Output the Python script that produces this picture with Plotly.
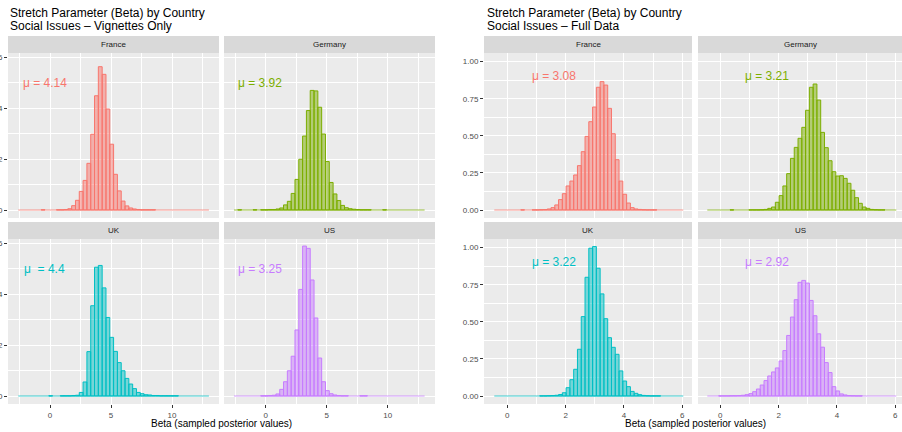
import plotly.graph_objects as go

# ---------------- data ----------------
COUNTRIES = ["France", "Germany", "UK", "US"]
COLORS = ["#F8766D", "#7CAE00", "#00BFC4", "#C77CFF"]

# Vignettes-only posterior histograms (density per bin), 50 bins
VIG_BIN_START = -2.6
VIG_BIN_WIDTH = 0.3125
VIG_FRANCE = [0, 0, 0, 0, 0, 0, 0.001, 0, 0, 0,
              0.001, 0.001, 0.002, 0.005, 0.017, 0.038, 0.073, 0.116, 0.183, 0.297,
              0.448, 0.562, 0.532, 0.396, 0.258, 0.140, 0.075, 0.035, 0.016, 0.008,
              0.004, 0.002, 0.001, 0.001, 0.001, 0.001, 0, 0, 0, 0,
              0, 0, 0, 0, 0, 0, 0, 0, 0, 0]
VIG_GERMANY = [0, 0.001, 0, 0, 0, 0.001, 0, 0.001, 0.001, 0.002,
               0.002, 0.004, 0.008, 0.020, 0.034, 0.065, 0.120, 0.199, 0.290, 0.390,
               0.469, 0.467, 0.403, 0.298, 0.190, 0.108, 0.063, 0.037, 0.018, 0.009,
               0.005, 0.003, 0.002, 0.001, 0.001, 0.001, 0, 0, 0, 0.001,
               0, 0, 0, 0, 0, 0, 0, 0, 0, 0]
VIG_UK = [0, 0, 0, 0, 0, 0, 0, 0, 0.001, 0,
          0, 0.001, 0.001, 0.001, 0.002, 0.003, 0.014, 0.055, 0.174, 0.354,
          0.505, 0.512, 0.424, 0.308, 0.230, 0.175, 0.131, 0.099, 0.069, 0.047,
          0.029, 0.014, 0.009, 0.005, 0.004, 0.002, 0.002, 0.001, 0.001, 0.001,
          0.001, 0.001, 0, 0, 0, 0, 0, 0, 0, 0]
VIG_US = [0, 0, 0, 0, 0, 0, 0, 0.001, 0.001, 0.002,
          0.003, 0.008, 0.026, 0.056, 0.099, 0.156, 0.259, 0.418, 0.588, 0.579,
          0.455, 0.306, 0.149, 0.056, 0.021, 0.009, 0.004, 0.002, 0.001, 0.001,
          0, 0, 0, 0.001, 0.001, 0, 0, 0, 0, 0,
          0, 0, 0, 0, 0, 0, 0, 0, 0, 0]
VIG_MEANS = ["4.14", "3.92", "4.4", "3.25"]

# Full-data posterior histograms (density per bin), 50 bins
FULL_BIN_START = -0.446
FULL_BIN_WIDTH = 0.1296
FULL_FRANCE = [0, 0, 0, 0, 0, 0, 0, 0.001, 0, 0,
               0.001, 0.001, 0.002, 0.003, 0.007, 0.016, 0.034, 0.070, 0.110, 0.162,
               0.195, 0.236, 0.299, 0.393, 0.496, 0.595, 0.694, 0.827, 0.865, 0.842,
               0.685, 0.514, 0.339, 0.195, 0.106, 0.047, 0.016, 0.007, 0.004, 0.002,
               0.001, 0.001, 0.001, 0, 0, 0, 0, 0, 0, 0]
FULL_GERMANY = [0, 0, 0, 0, 0, 0, 0.001, 0, 0, 0,
                0, 0.001, 0.001, 0.001, 0.002, 0.004, 0.011, 0.020, 0.052, 0.097,
                0.162, 0.245, 0.348, 0.422, 0.483, 0.557, 0.672, 0.827, 0.849, 0.741,
                0.523, 0.420, 0.332, 0.258, 0.229, 0.231, 0.213, 0.180, 0.133, 0.083,
                0.045, 0.020, 0.011, 0.004, 0.002, 0.001, 0.001, 0, 0, 0]
FULL_UK = [0, 0, 0, 0, 0, 0, 0, 0, 0, 0,
           0, 0, 0.001, 0.001, 0.002, 0.003, 0.005, 0.010, 0.022, 0.056,
           0.110, 0.180, 0.315, 0.535, 0.800, 0.996, 1.007, 0.861, 0.688, 0.521,
           0.393, 0.328, 0.281, 0.169, 0.101, 0.063, 0.031, 0.018, 0.009, 0.004,
           0.002, 0.001, 0.001, 0.001, 0, 0, 0, 0, 0, 0]
FULL_US = [0, 0, 0, 0.001, 0.001, 0.001, 0.002, 0.002, 0.003, 0.005,
           0.009, 0.016, 0.029, 0.047, 0.074, 0.104, 0.135, 0.162, 0.189, 0.236,
           0.306, 0.408, 0.532, 0.649, 0.766, 0.779, 0.761, 0.644, 0.541, 0.419,
           0.329, 0.225, 0.158, 0.063, 0.034, 0.014, 0.007, 0.003, 0.002, 0.001,
           0.001, 0, 0, 0, 0, 0, 0, 0, 0, 0]
FULL_MEANS = ["3.08", "3.21", "3.22", "2.92"]

VIG_X_TICKS = [0, 5, 10]
VIG_Y_TICKS = [0.0, 0.2, 0.4, 0.6]
FULL_X_TICKS = [0, 2, 4, 6]
FULL_Y_TICKS = [0.0, 0.25, 0.50, 0.75, 1.00]

TITLES = [("Stretch Parameter (Beta) by Country", "Social Issues \u2013 Vignettes Only"),
          ("Stretch Parameter (Beta) by Country", "Social Issues \u2013 Full Data")]
X_TITLE = "Beta (sampled posterior values)"

# ---------------- layout geometry (pixels) ----------------
W, H = 902, 432
FONT = "Liberation Sans, Arial, Helvetica, sans-serif"


def fx(p):
    return p / W


def fy(p):
    return 1 - p / H


ROWS = [(53, 218), (239, 404)]
STRIPS = [(36, 53), (222, 239)]
IMAGES = [
    dict(cols=[(8, 219), (224, 435)], zero_x=[50, 265.7], sx=12.2, zero_y=[210, 396], sy=255.0,
         data=[VIG_FRANCE, VIG_GERMANY, VIG_UK, VIG_US], start=VIG_BIN_START, bw=VIG_BIN_WIDTH,
         means=VIG_MEANS, xt=VIG_X_TICKS, yt=VIG_Y_TICKS, xfmt="{:g}", yfmt="{:.1f}",
         xminor=2.5, yminor=0.1, mu_x=-0.45, mu_y=0.5, title_x=8, xtitle_x=221.5),
    dict(cols=[(484, 692), (698, 902)], zero_x=[507.3, 720.3], sx=29.17, zero_y=[210, 396], sy=148.4,
         data=[FULL_FRANCE, FULL_GERMANY, FULL_UK, FULL_US], start=FULL_BIN_START, bw=FULL_BIN_WIDTH,
         means=FULL_MEANS, xt=FULL_X_TICKS, yt=FULL_Y_TICKS, xfmt="{:g}", yfmt="{:.2f}",
         xminor=1, yminor=0.125, mu_x=1.6, mu_y=0.9, title_x=485, xtitle_x=695),
]


def rgba(hexc, a):
    h = hexc.lstrip("#")
    r, g, b = int(h[0:2], 16), int(h[2:4], 16), int(h[4:6], 16)
    return f"rgba({r},{g},{b},{a})"


fig = go.Figure()
layout = {}
shapes = []
annotations = []

for j, img in enumerate(IMAGES):
    for c, country in enumerate(COUNTRIES):
        idx = j * 4 + c + 1
        row, col = c // 2, c % 2
        xs = "" if idx == 1 else str(idx)
        vals = img["data"][c]
        n = len(vals)
        centers = [img["start"] + (k + 0.5) * img["bw"] for k in range(n)]
        edges_end = [img["start"], img["start"] + n * img["bw"]]
        color = COLORS[c]

        fig.add_trace(go.Scatter(x=edges_end, y=[0, 0], mode="lines",
                                 line=dict(color=color, width=1), opacity=0.75,
                                 xaxis="x" + xs, yaxis="y" + xs, showlegend=False,
                                 hoverinfo="skip"))
        fig.add_trace(go.Bar(x=centers, y=[v if v > 0 else None for v in vals], width=img["bw"],
                             marker=dict(color=rgba(color, 0.5), line=dict(color=color, width=1)),
                             xaxis="x" + xs, yaxis="y" + xs, showlegend=False))

        left, right = img["cols"][col]
        top, bottom = ROWS[row]
        zx = img["zero_x"][col]
        zy = img["zero_y"][row]
        xr = [(left - zx) / img["sx"], (right - zx) / img["sx"]]
        yr = [(zy - bottom) / img["sy"], (zy - top) / img["sy"]]

        show_x = row == 1
        show_y = col == 0
        layout["xaxis" + xs] = dict(
            domain=[fx(left), fx(right)], range=xr, anchor="y" + xs, automargin=False,
            tickmode="array", tickvals=img["xt"], ticktext=[img["xfmt"].format(v) for v in img["xt"]],
            showticklabels=show_x, ticks="outside" if show_x else "", ticklen=3, tickwidth=1,
            tickcolor="#333333", tickfont=dict(size=8, color="#4D4D4D", family=FONT),
            showgrid=True, gridcolor="white", gridwidth=1.1, zeroline=False, showline=False,
            minor=dict(tickmode="linear", tick0=0, dtick=img["xminor"], showgrid=True,
                       gridcolor="white", gridwidth=0.5, ticks=""),
            fixedrange=True)
        layout["yaxis" + xs] = dict(
            domain=[fy(bottom), fy(top)], range=yr, anchor="x" + xs, automargin=False,
            tickmode="array", tickvals=img["yt"], ticktext=[img["yfmt"].format(v) for v in img["yt"]],
            showticklabels=show_y, ticks="outside" if show_y else "", ticklen=3, tickwidth=1,
            tickcolor="#333333", tickfont=dict(size=8, color="#4D4D4D", family=FONT),
            showgrid=True, gridcolor="white", gridwidth=1.1, zeroline=False, showline=False,
            minor=dict(tickmode="linear", tick0=0, dtick=img["yminor"], showgrid=True,
                       gridcolor="white", gridwidth=0.5, ticks=""),
            fixedrange=True)

        # strip
        s_top, s_bot = STRIPS[row]
        shapes.append(dict(type="rect", xref="paper", yref="paper",
                           x0=fx(left), x1=fx(right), y0=fy(s_bot), y1=fy(s_top),
                           fillcolor="#D9D9D9", line=dict(width=0), layer="below"))
        annotations.append(dict(text=country, xref="paper", yref="paper",
                                x=fx((left + right) / 2), y=fy((s_top + s_bot) / 2),
                                xanchor="center", yanchor="middle", showarrow=False,
                                font=dict(size=8, color="#1A1A1A", family=FONT)))
        # mean label
        mu_text = "\u03bc = " + img["means"][c]
        if img["means"][c] == "4.4":
            mu_text = "\u03bc\u00a0 = " + img["means"][c]
        annotations.append(dict(text=mu_text, xref="x" + xs, yref="y" + xs,
                                x=img["mu_x"], y=img["mu_y"], xanchor="center", yanchor="middle",
                                showarrow=False, font=dict(size=12, color=color, family=FONT)))

    # titles
    annotations.append(dict(text=TITLES[j][0], xref="paper", yref="paper", x=fx(img["title_x"]),
                            y=fy(12.5), xanchor="left", yanchor="middle", showarrow=False,
                            font=dict(size=12, color="#000000", family=FONT)))
    annotations.append(dict(text=TITLES[j][1], xref="paper", yref="paper", x=fx(img["title_x"]),
                            y=fy(25.5), xanchor="left", yanchor="middle", showarrow=False,
                            font=dict(size=12, color="#000000", family=FONT)))
    annotations.append(dict(text=X_TITLE, xref="paper", yref="paper", x=fx(img["xtitle_x"]),
                            y=fy(423), xanchor="center", yanchor="middle", showarrow=False,
                            font=dict(size=10, color="#000000", family=FONT)))

fig.update_layout(
    template="none",
    width=W, height=H, autosize=False,
    margin=dict(l=0, r=0, t=0, b=0, pad=0),
    paper_bgcolor="white", plot_bgcolor="#EBEBEB",
    font=dict(family=FONT, size=10, color="#000000"),
    barmode="overlay", showlegend=False,
    shapes=shapes, annotations=annotations,
    **layout,
)

fig.write_html("out.html",
               config={"displayModeBar": False, "staticPlot": False},
               post_script="document.body.style.margin='0px';document.body.style.overflow='hidden';")
